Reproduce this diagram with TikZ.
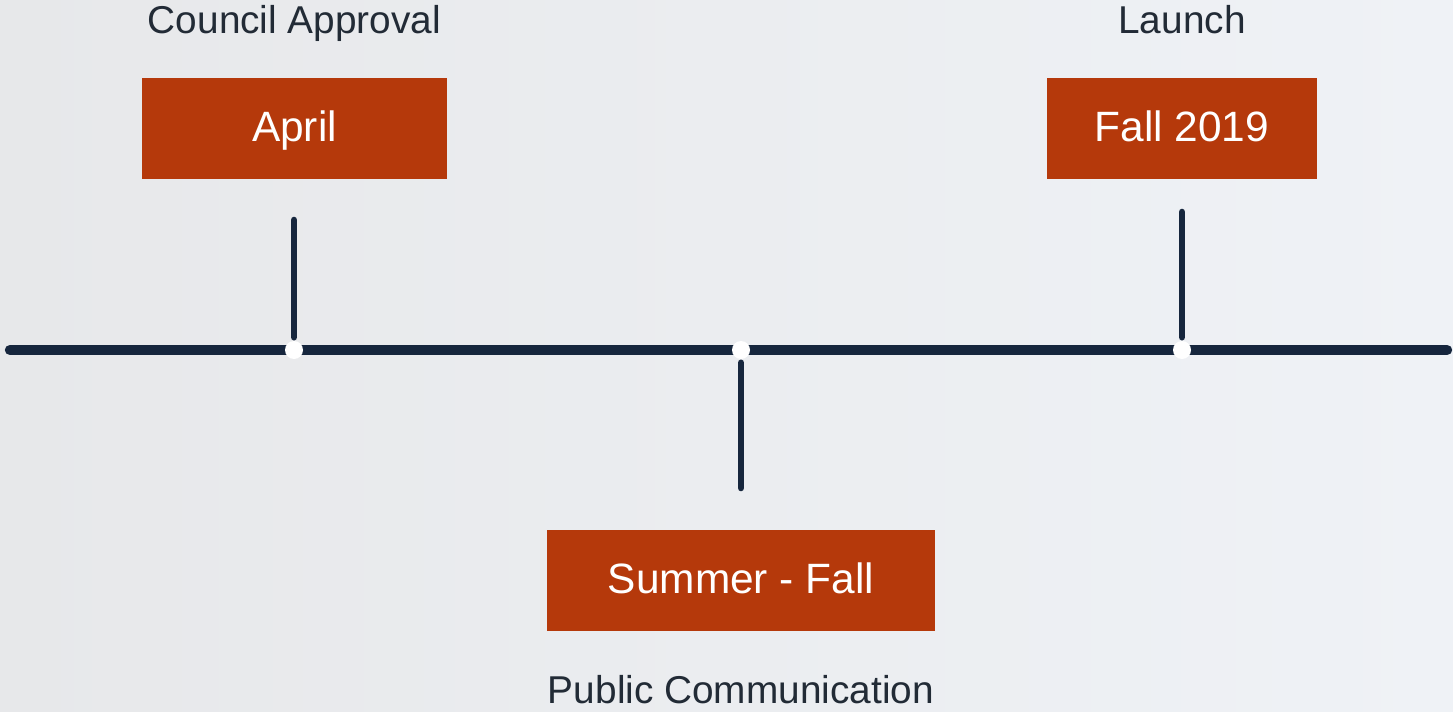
\documentclass[tikz,border=0pt]{standalone}
\usepackage{fontspec}
\setmainfont{Liberation Sans}
\usetikzlibrary{positioning}
\definecolor{rust}{HTML}{B5390B}
\definecolor{navy}{HTML}{16263D}
\definecolor{ink}{HTML}{222B36}
\definecolor{mist}{HTML}{EFF2F6}
\definecolor{haze}{HTML}{E7E8EA}

\begin{document}
\begin{tikzpicture}[x=0.5pt, y=-0.5pt,
			stage/.style = {rectangle, fill=rust, text=white, inner sep=0pt, font=\fontsize{21.2}{25}\selectfont, text height=14.5pt, text depth=1.5pt},
			tag/.style   = {inner sep=0pt, text=ink, font=\fontsize{19.4}{23}\selectfont, text height=13.5pt, text depth=4pt},
			dot/.style   = {circle, fill=white, inner sep=0pt, minimum size=9pt},
			axis/.style  = {draw=navy, line width=5.2pt, line cap=round},
			tick/.style  = {draw=navy, line width=3.3pt, line cap=round, shorten <=1.7pt}]
			
			% background, also fixes the page size
			\fill[left color=haze, right color=mist] (0,0) rectangle (1453,711);
			
			% the time axis and its milestones
			\coordinate (start) at (10,350);
			\coordinate (end) at (1447,350);
			\draw[axis] (start) -- (end);
			\foreach \x/\n in {294/1,741/2,1182/3}
			\node[dot] (m\n) at (\x,350) {};
			
			% dated boxes
			\node[stage, minimum width=152.5pt, minimum height=50.5pt] (apr) at (294.5,128.5) {April};
			\node[stage, minimum width=135pt, minimum height=50.5pt] (fall) at (1182,128.5) {Fall 2019};
			\node[stage, minimum width=194pt, minimum height=50.5pt] (sum) at (741,580.5) {Summer - Fall};
			
			% captions, relatively positioned
			\node[tag, above=18pt of apr] (council) {Council Approval};
			\node[tag, above=18pt of fall] (launch) {Launch};
			\node[tag, below=22.5pt of sum] (public) {Public Communication};
			
			% ticks from the axis towards the boxes
			\coordinate (t1) at (294,220);
			\coordinate (t2) at (741,488);
			\coordinate (t3) at (1182,212);
			\draw[tick] (m1.north) -- (t1);
			\draw[tick] (m2.south) -- (t2);
			\draw[tick] (m3.north) -- (t3);
		\end{tikzpicture}
\end{document}
